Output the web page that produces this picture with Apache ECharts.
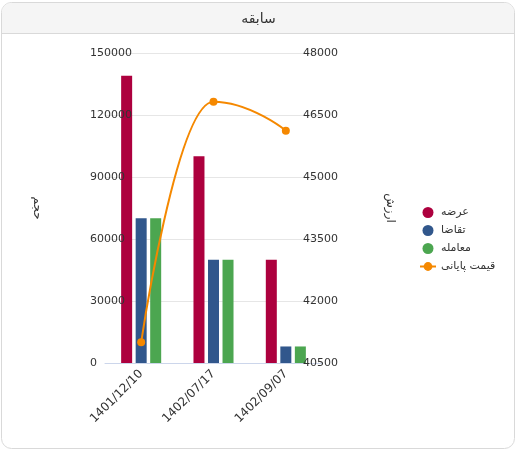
<!DOCTYPE html>
<html>
<head>
<meta charset="utf-8">
<script src="https://cdn.jsdelivr.net/npm/echarts@6/dist/echarts.min.js"></script>
<style>
html,body{margin:0;padding:0;background:#fff;}
#chart{width:517px;height:452px;}
</style>
</head>
<body>
<div id="chart"></div>
<script>
const titleText = 'سابقه';
const categories = ['1401/12/10', '1402/07/17', '1402/09/07'];
const offerName = 'عرضه';
const demandName = 'تقاضا';
const tradeName = 'معامله';
const priceName = 'قیمت پایانی';
const offerValues = [139000, 100000, 50000];
const demandValues = [70000, 50000, 8000];
const tradeValues = [70000, 50000, 8000];
const priceValues = [41000, 46820, 46120];
const leftAxisName = 'حجم';
const rightAxisName = 'ارزش';
const leftTicks = [0, 30000, 60000, 90000, 120000, 150000];
const rightTicks = [40500, 42000, 43500, 45000, 46500, 48000];

const FONT = "'DejaVu Sans', 'Noto Sans', sans-serif";
const chart = echarts.init(document.getElementById('chart'), null, {renderer: 'canvas'});

const leftMin = leftTicks[0], leftMax = leftTicks[leftTicks.length - 1], leftInt = leftTicks[1] - leftTicks[0];
const rightMin = rightTicks[0], rightMax = rightTicks[rightTicks.length - 1], rightInt = rightTicks[1] - rightTicks[0];

const gridPos = {left: 105, right: 195, top: 53, bottom: 89};
const plain = v => String(v);

chart.setOption({
  animation: false,
  backgroundColor: 'transparent',
  title: {
    text: titleText, left: 'center', top: 7,
    textStyle: {fontSize: 14, fontWeight: 'normal', color: '#333', fontFamily: FONT}
  },
  graphic: [
    {type: 'rect', z: -100, shape: {x: 1.5, y: 2.5, width: 513, height: 446, r: 10},
     style: {fill: '#fff', stroke: '#d9d9d9', lineWidth: 1}},
    {type: 'rect', z: -99, shape: {x: 2, y: 3, width: 512, height: 30, r: [9, 9, 0, 0]},
     style: {fill: '#f5f5f5'}},
    {type: 'line', z: -98, shape: {x1: 2, y1: 33.5, x2: 514, y2: 33.5},
     style: {stroke: '#d9d9d9', lineWidth: 1}}
  ],
  legend: {
    orient: 'vertical', left: 414, top: 202,
    itemWidth: 16, itemHeight: 11, itemGap: 7, itemTextGap: 6,
    textStyle: {fontSize: 11, color: '#333', fontFamily: FONT},
    data: [
      {name: offerName, icon: 'circle'},
      {name: demandName, icon: 'circle'},
      {name: tradeName, icon: 'circle'},
      {name: priceName}
    ]
  },
  grid: [
    Object.assign({containLabel: false}, gridPos),
    Object.assign({containLabel: false}, gridPos)
  ],
  xAxis: [
    {
      type: 'category', gridIndex: 0, data: categories,
      axisLine: {lineStyle: {color: '#ccd6eb', width: 1}},
      axisTick: {show: false},
      axisLabel: {rotate: 45, fontSize: 12, color: '#333', fontFamily: FONT, margin: 9, interval: 0},
      splitLine: {show: false}
    },
    {
      type: 'category', gridIndex: 1, data: categories, show: false
    }
  ],
  yAxis: [
    {
      type: 'value', gridIndex: 0, position: 'left', min: leftMin, max: leftMax, interval: leftInt,
      axisLine: {show: false}, axisTick: {show: false}, axisLabel: {show: false},
      splitLine: {show: true, lineStyle: {color: '#e6e6e6', width: 1}}
    },
    {
      type: 'value', gridIndex: 0, position: 'right', min: rightMin, max: rightMax, interval: rightInt,
      axisLine: {show: false}, axisTick: {show: false}, axisLabel: {show: false},
      splitLine: {show: false}
    },
    {
      type: 'value', gridIndex: 1, position: 'left', min: leftMin, max: leftMax, interval: leftInt, z: 10,
      axisLine: {show: false}, axisTick: {show: false}, splitLine: {show: false},
      axisLabel: {align: 'left', margin: 15, fontSize: 11, color: '#333', fontFamily: FONT, formatter: plain},
      name: leftAxisName, nameLocation: 'middle', nameGap: 62, nameRotate: -90,
      nameTextStyle: {fontSize: 12, color: '#333', fontFamily: FONT}
    },
    {
      type: 'value', gridIndex: 1, position: 'right', min: rightMin, max: rightMax, interval: rightInt, z: 10,
      axisLine: {show: false}, axisTick: {show: false}, splitLine: {show: false},
      axisLabel: {align: 'right', margin: 16, fontSize: 11, color: '#333', fontFamily: FONT, formatter: plain},
      name: rightAxisName, nameLocation: 'middle', nameGap: 62, nameRotate: -90,
      nameTextStyle: {fontSize: 12, color: '#333', fontFamily: FONT}
    }
  ],
  series: [
    {name: offerName, type: 'bar', xAxisIndex: 0, yAxisIndex: 0, data: offerValues,
     barWidth: 11, barGap: '32%', itemStyle: {color: '#ad003e'}},
    {name: demandName, type: 'bar', xAxisIndex: 0, yAxisIndex: 0, data: demandValues,
     barWidth: 11, barGap: '32%', itemStyle: {color: '#31578c'}},
    {name: tradeName, type: 'bar', xAxisIndex: 0, yAxisIndex: 0, data: tradeValues,
     barWidth: 11, barGap: '32%', itemStyle: {color: '#4ca650'}},
    {name: priceName, type: 'line', xAxisIndex: 0, yAxisIndex: 1, data: priceValues,
     smooth: 0.5, smoothMonotone: 'x', symbol: 'circle', symbolSize: 8, z: 5,
     lineStyle: {color: '#f58800', width: 2}, itemStyle: {color: '#f58800'}}
  ]
});
</script>
</body>
</html>
